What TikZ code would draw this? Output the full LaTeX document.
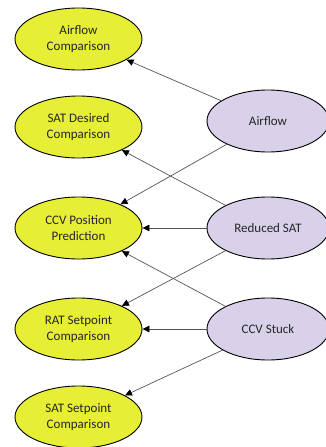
\documentclass[tikz,border=0pt]{standalone}
\usepackage{fontspec}
\setmainfont{Carlito}
\usetikzlibrary{shapes.geometric,arrows.meta}
\definecolor{yel}{HTML}{E6EE36}
\definecolor{lav}{HTML}{D9D1EA}
\definecolor{txt}{HTML}{262626}
\definecolor{ln}{HTML}{555555}
\begin{document}
\begin{tikzpicture}[x=1pt,y=-1pt,
  base/.style={ellipse,draw=black,line width=0.9pt,inner sep=0pt,minimum height=62pt,
    align=center,text=txt,font=\fontsize{13pt}{15.5pt}\selectfont},
  outnode/.style={base,fill=yel,minimum width=127pt},
  innode/.style={base,fill=lav,minimum width=122pt},
  conn/.style={draw=ln,line width=0.7pt,-{Triangle[length=7pt,width=6.5pt,color=black]}}]
\useasboundingbox (0,0) rectangle (325,447);
\node[outnode] (ac) at (78.5,39) {Airflow\\Comparison};
\node[outnode] (sd) at (78.5,127) {SAT Desired\\Comparison};
\node[outnode] (cp) at (78.5,228) {CCV Position\\Prediction};
\node[outnode] (rs) at (78.5,329) {RAT Setpoint\\Comparison};
\node[outnode] (ss) at (78.5,417) {SAT Setpoint\\Comparison};
\node[innode] (af) at (268,121) {Airflow};
\node[innode] (rd) at (268,228) {Reduced SAT};
\node[innode] (cs) at (268,329) {CCV Stuck};
\draw[conn] (af) -- (ac);
\draw[conn] (af) -- (cp);
\draw[conn] (rd) -- (sd);
\draw[conn] (rd) -- (cp);
\draw[conn] (rd) -- (rs);
\draw[conn] (cs) -- (cp);
\draw[conn] (cs) -- (rs);
\draw[conn] (cs) -- (ss);
\end{tikzpicture}
\end{document}
